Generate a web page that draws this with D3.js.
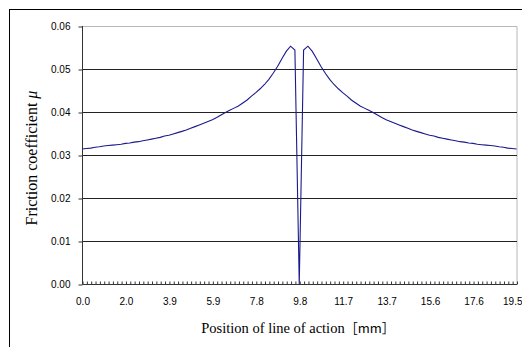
<!DOCTYPE html>
<html><head><meta charset="utf-8">
<script src="https://cdn.jsdelivr.net/npm/d3@7/dist/d3.min.js"></script>
<style>body{margin:0;background:#fff;}svg{display:block;}</style>
</head><body>
<svg id="c" width="522" height="347"></svg>
<script>
// Position along line of action [mm], one point every 0.195 mm (101 points)
const positions = d3.range(101).map(i => +(i * 0.195).toFixed(3));
// Friction coefficient values
const mu = [
0.0314,0.0315,0.0316,0.0318,0.0319,0.0321,0.0322,0.0323,0.0324,0.0325,
0.0327,0.0328,0.0330,0.0331,0.0333,0.0335,0.0337,0.0339,0.0341,0.0344,
0.0346,0.0349,0.0352,0.0355,0.0358,0.0362,0.0366,0.0370,0.0374,0.0378,
0.0382,0.0387,0.0393,0.0399,0.0404,0.0409,0.0414,0.0421,0.0428,0.0437,
0.0445,0.0454,0.0464,0.0476,0.0490,0.0506,0.0524,0.0541,0.0553,0.0544,
0.0000,
0.0544,0.0553,0.0541,0.0524,0.0506,0.0490,0.0476,0.0464,0.0454,0.0445,
0.0437,0.0428,0.0421,0.0414,0.0409,0.0404,0.0399,0.0393,0.0387,0.0382,
0.0378,0.0374,0.0370,0.0366,0.0362,0.0358,0.0355,0.0352,0.0349,0.0346,
0.0344,0.0341,0.0339,0.0337,0.0335,0.0333,0.0331,0.0330,0.0328,0.0327,
0.0325,0.0324,0.0323,0.0322,0.0321,0.0319,0.0318,0.0316,0.0315,0.0314
];
const xTickLabels = ["0.0","2.0","3.9","5.9","7.8","9.8","11.7","13.7","15.6","17.6","19.5"];
const yTicks = [0, 0.01, 0.02, 0.03, 0.04, 0.05, 0.06];

const svg = d3.select("#c");
const L = 82, R = 516.5, T = 26, B = 284;
const x = d3.scaleLinear().domain([0, positions.length - 1]).range([L, R]);
const y = d3.scaleLinear().domain([0, 0.06]).range([B, T]);

// outer chart border
svg.append("rect").attr("x", 9.5).attr("y", 9.5).attr("width", 600).attr("height", 400)
  .attr("fill", "none").attr("stroke", "#000").attr("stroke-width", 1);

// plot area border (light gray top/right)
svg.append("path").attr("d", `M${L},${T+0.5}H${R+0.5}V${B}`)
  .attr("fill", "none").attr("stroke", "#b8b8b8").attr("stroke-width", 1);

// gridlines
svg.append("g").selectAll("line").data(yTicks.filter(v => v > 0 && v < 0.06)).join("line")
  .attr("x1", L).attr("x2", R + 0.5)
  .attr("y1", d => Math.round(y(d)) + 0.5).attr("y2", d => Math.round(y(d)) + 0.5)
  .attr("stroke", "#222").attr("stroke-width", 1);

// y axis
const yAxis = svg.append("g").attr("transform", `translate(${L + 0.5},0.5)`)
  .call(d3.axisLeft(y).tickValues(yTicks).tickFormat(d3.format(".2f")).tickSize(4).tickPadding(8));
yAxis.selectAll("path, line").attr("stroke", "#333");
yAxis.select(".domain").attr("d", `M0,${T - 0.5}V${B}`);
yAxis.selectAll("text").attr("font-family", "Liberation Sans, Arial, sans-serif").attr("font-size", 10).attr("fill", "#000");

// x axis minor ticks (inward)
const xAxis = svg.append("g").attr("transform", `translate(0.5,${B + 0.5})`)
  .call(d3.axisBottom(x).tickValues(d3.range(positions.length)).tickSize(-3).tickFormat(""));
xAxis.selectAll("path, line").attr("stroke", "#333");
xAxis.select(".domain").attr("d", `M${L},0H${R}`);

// x axis labels every 10 points
const xLab = svg.append("g").attr("transform", `translate(0.5,${B + 0.5})`)
  .call(d3.axisBottom(x).tickValues(d3.range(0, positions.length, 10)).tickSize(0).tickPadding(13)
    .tickFormat((d, i) => xTickLabels[i]));
xLab.select(".domain").remove();
xLab.selectAll("text").attr("font-family", "Liberation Sans, Arial, sans-serif").attr("font-size", 10).attr("fill", "#000");
// last label kept inside the window, as in the reference
xLab.selectAll(".tick").filter(d => d === positions.length - 1).select("text")
  .attr("text-anchor", "end").attr("x", 21.5 - (R - 500));

// line
svg.append("path").datum(mu)
  .attr("fill", "none").attr("stroke", "#1a1a8c").attr("stroke-width", 1.1)
  .attr("d", d3.line().x((d, i) => x(i)).y(d => y(d)));

// axis titles
const xt = svg.append("text").attr("x", 298).attr("y", 333).attr("text-anchor", "middle")
  .attr("font-family", "Liberation Serif, Times New Roman, serif").attr("font-size", 14.5).attr("fill", "#000");
xt.append("tspan").text("Position of line of action");
xt.append("tspan").attr("font-family", "Noto Sans CJK JP, sans-serif").attr("font-size", 13).text("［mm］");

const yt = svg.append("text").attr("transform", "translate(37,158) rotate(-90)").attr("text-anchor", "middle")
  .attr("font-family", "Liberation Serif, Times New Roman, serif").attr("font-size", 16).attr("fill", "#000");
yt.append("tspan").text("Friction coefficient ");
yt.append("tspan").attr("font-style", "italic").text("μ");
</script>
</body></html>
